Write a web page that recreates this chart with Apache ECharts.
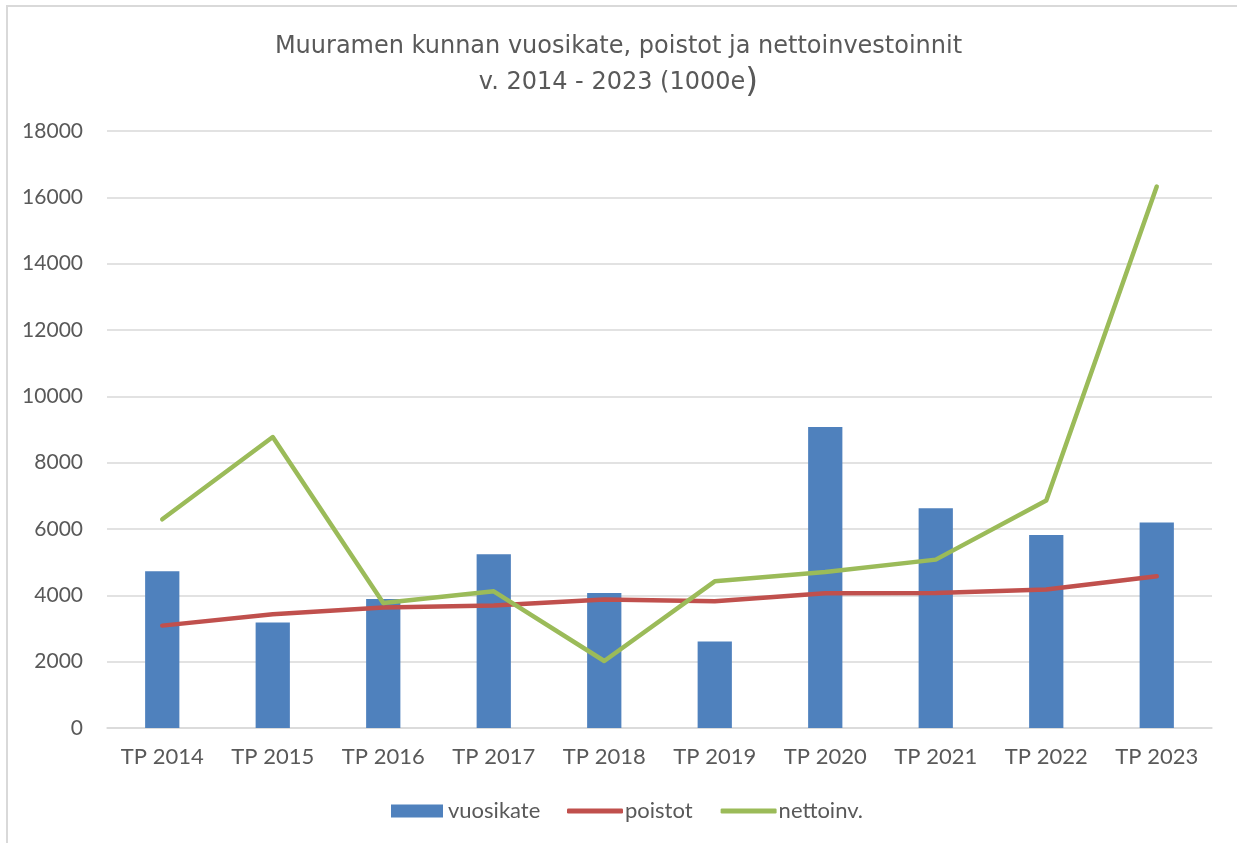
<!DOCTYPE html>
<html><head><meta charset="utf-8">
<script src="https://cdn.jsdelivr.net/npm/echarts@6/dist/echarts.min.js"></script>
<style>
html,body{margin:0;padding:0;background:#fff;overflow:hidden;}
#frame{position:absolute;left:6px;top:5px;width:1260px;height:860px;border:2px solid #D9D9D9;box-sizing:border-box;}
#c{position:absolute;left:0;top:0;width:1237px;height:843px;}
</style></head>
<body>
<div id="frame"></div>
<div id="c"></div>
<script>
const categories = ['TP 2014','TP 2015','TP 2016','TP 2017','TP 2018','TP 2019','TP 2020','TP 2021','TP 2022','TP 2023'];
const vuosikate = [4724, 3180, 3890, 5237, 4070, 2605, 9075, 6623, 5818, 6198];
const poistot   = [3087, 3428, 3630, 3690, 3871, 3820, 4061, 4070, 4176, 4578];
const nettoinv  = [6292, 8773, 3768, 4121, 2020, 4423, 4703, 5077, 6856, 16326];
const yTicks = [0, 2000, 4000, 6000, 8000, 10000, 12000, 14000, 16000, 18000];

const chart = echarts.init(document.getElementById('c'), null, {renderer:'canvas'});
const axisFont = 'Lato, "Open Sans", sans-serif';
chart.setOption({
  animation:false,
  title:{
    text:'Muuramen kunnan vuosikate, poistot ja nettoinvestoinnit\n{a|v. 2014 - 2023 (1000e}{b|)}',
    left:'center', top:24,
    textStyle:{fontFamily:'"DejaVu Sans", Verdana, sans-serif', fontSize:24, fontWeight:'normal', color:'#595959', lineHeight:36,
      rich:{a:{fontFamily:'"DejaVu Sans", sans-serif', fontSize:24, color:'#595959', lineHeight:36},
            b:{fontFamily:'"DejaVu Sans", sans-serif', fontSize:33, color:'#595959', lineHeight:36}}}
  },
  grid:{left:107, right:25, top:131, bottom:115, containLabel:false},
  legend:[
    {
      left:391, top:800, padding:0, itemWidth:52, itemHeight:13, itemGap:0,
      textStyle:{fontFamily:axisFont, fontSize:22, color:'#595959', padding:[0,0,0,0]},
      data:[{name:'vuosikate', icon:'rect'}]
    },
    {
      left:567, top:800, padding:0, itemWidth:56, itemHeight:5, itemGap:28,
      textStyle:{fontFamily:axisFont, fontSize:22, color:'#595959', padding:[0,0,0,-3]},
      data:[{name:'poistot', icon:'roundRect'},{name:'nettoinv.', icon:'roundRect'}]
    }
  ],
  xAxis:{
    type:'category', data:categories,
    axisLine:{lineStyle:{color:'#D9D9D9', width:1.5}},
    axisTick:{show:false},
    axisLabel:{fontFamily:axisFont, fontSize:22, color:'#595959', margin:18}
  },
  yAxis:{
    type:'value', min:0, max:18000, interval:2000,
    axisLine:{show:false}, axisTick:{show:false},
    axisLabel:{fontFamily:axisFont, fontSize:21, color:'#595959', margin:24,
      formatter:v=> yTicks.includes(v) ? String(v) : ''},
    splitLine:{lineStyle:{color:'#D9D9D9', width:1.5}}
  },
  series:[
    {name:'vuosikate', type:'bar', data:vuosikate, barWidth:'31%',
     itemStyle:{color:'#4F81BD'}},
    {name:'poistot', type:'line', data:poistot, symbol:'none',
     lineStyle:{color:'#C0504D', width:4.5, cap:'round', join:'round'}, itemStyle:{color:'#C0504D'}},
    {name:'nettoinv.', type:'line', data:nettoinv, symbol:'none',
     lineStyle:{color:'#9BBB59', width:4.5, cap:'round', join:'round'}, itemStyle:{color:'#9BBB59'}}
  ]
});
</script>
</body></html>
